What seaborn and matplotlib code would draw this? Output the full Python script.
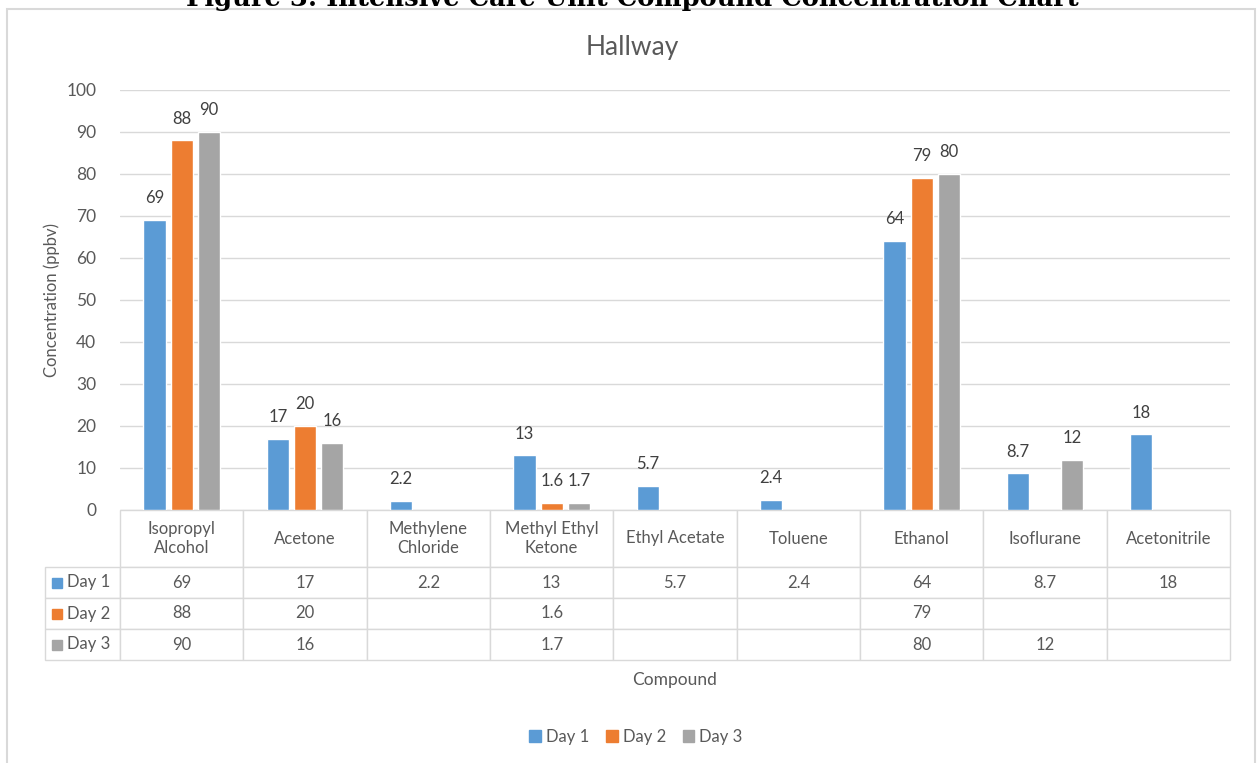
import pandas as pd
import matplotlib.pyplot as plt
import matplotlib.patches as mpatches
import seaborn as sns

# data
compounds = ['Isopropyl\nAlcohol', 'Acetone', 'Methylene\nChloride', 'Methyl Ethyl\nKetone',
             'Ethyl Acetate', 'Toluene', 'Ethanol', 'Isoflurane', 'Acetonitrile']
days = ['Day 1', 'Day 2', 'Day 3']
day1 = [69, 17, 2.2, 13, 5.7, 2.4, 64, 8.7, 18]
day2 = [88, 20, None, 1.6, None, None, 79, None, None]
day3 = [90, 16, None, 1.7, None, None, 80, 12, None]
colors = ['#5B9BD5', '#ED7D31', '#A5A5A5']

rows = []
for day, vals in zip(days, [day1, day2, day3]):
    for c, v in zip(compounds, vals):
        if v is not None:
            rows.append({'Compound': c, 'Day': day, 'Value': v})
df = pd.DataFrame(rows)

sns.set_theme(style='white')
plt.rcParams['font.family'] = ['Lato', 'DejaVu Sans']
txt = '#595959'
W, H = 1258, 763

fig = plt.figure(figsize=(W / 100, H / 100), dpi=100)
ax = fig.add_axes([120 / W, 1 - 510 / H, 1110 / W, 420 / H])

sns.barplot(data=df, x='Compound', y='Value', hue='Day', order=compounds, hue_order=days,
            palette=colors, width=0.66, gap=0.18, saturation=1, errorbar=None,
            legend=False, ax=ax)

for cont in ax.containers:
    ax.bar_label(cont, fmt='{:g}', padding=10, fontsize=12, color='#404040')

ax.set_ylim(0, 100)
ax.set_yticks(range(0, 101, 10))
ax.set_xlim(-0.5, len(compounds) - 0.5)
ax.set_xticks([])
ax.set_xlabel('')
ax.grid(axis='y', color='#D9D9D9', lw=1)
ax.set_axisbelow(True)
for s in ax.spines.values():
    s.set_visible(False)
ax.tick_params(axis='y', labelsize=12.5, colors=txt, length=0, pad=17)
ax.set_ylabel('Concentration (ppbv)', fontsize=12, color=txt)
ax.yaxis.set_label_coords(-60 / 1110, 0.5)

# data table under the plot (first column holds the series names)
def fmt(v):
    return '' if v is None else f'{v:g}'

cell_text = [[''] + [fmt(v) for v in vals] for vals in [day1, day2, day3]]
col_w = [75 / 1185] + [(1110 / 9) / 1185] * len(compounds)
tbl = ax.table(cellText=cell_text, colLabels=[''] + compounds, colWidths=col_w,
               cellLoc='center', bbox=[-75 / 1110, -150 / 420, 1185 / 1110, 150 / 420])
tbl.auto_set_font_size(False)
tbl.set_fontsize(12)
for (r, c), cell in tbl.get_celld().items():
    cell.set_edgecolor('#D9D9D9')
    cell.set_linewidth(1)
    cell.get_text().set_color(txt)
    cell.set_height(57 if r == 0 else 31)
    if r == 0 and c == 0:
        cell.visible_edges = ''

for i, (day, col) in enumerate(zip(days, colors)):
    yc = (510 - (582.5 + 31 * i)) / 420
    ax.plot([-63 / 1110], [yc], transform=ax.transAxes, marker='s',
            ms=7.5, color=col, clip_on=False, ls='none')
    ax.text(-53 / 1110, yc, day, transform=ax.transAxes, ha='left', va='center',
            fontsize=12, color=txt)

fig.text(675 / W, 1 - 680 / H, 'Compound', ha='center', va='center', fontsize=12.5, color=txt)
fig.text(632 / W, 1 - 47 / H, 'Hallway', ha='center', va='center', fontsize=19, color=txt)

handles = [mpatches.Patch(color=c, label=d) for d, c in zip(days, colors)]
fig.legend(handles=handles, loc='center', bbox_to_anchor=(636 / W, 1 - 737 / H), ncol=3,
           frameon=False, fontsize=12, handlelength=0.7, handleheight=0.7,
           handletextpad=0.3, columnspacing=1.0, labelcolor=txt)

# cut-off document caption and chart frame
fig.text(632 / W, 1 - 6 / H, 'Figure 3: Intensive Care Unit Compound Concentration Chart',
         ha='center', va='baseline', fontsize=18.5, fontweight='bold',
         family='DejaVu Serif', color='black')
fig.add_artist(mpatches.Rectangle((7 / W, -0.01), (1255 - 7) / W, (H - 9) / H + 0.01,
                                  transform=fig.transFigure, fill=False,
                                  ec='#D9D9D9', lw=1.5))

fig.savefig('out.png', dpi=100)
